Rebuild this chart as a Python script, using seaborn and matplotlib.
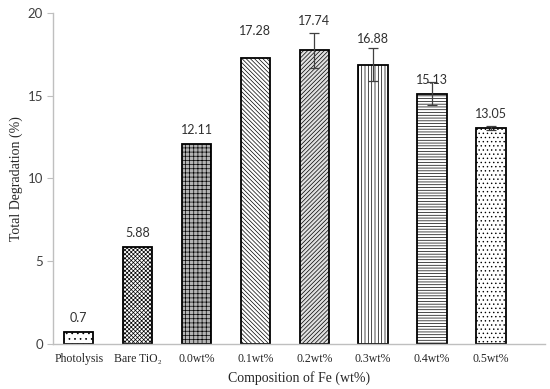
import matplotlib
matplotlib.use("Agg")
import matplotlib.pyplot as plt
import seaborn as sns
import numpy as np
import pandas as pd

categories = ['Photolysis', 'Bare TiO₂', '0.0wt%', '0.1wt%', '0.2wt%', '0.3wt%', '0.4wt%', '0.5wt%']
degradation = [0.7, 5.88, 12.11, 17.28, 17.74, 16.88, 15.13, 13.05]
errors = [0, 0, 0, 0, 1.05, 1.0, 0.7, 0.15]
labels = ['0.7', '5.88', '12.11', '17.28', '17.74', '16.88', '15.13', '13.05']

df = pd.DataFrame({'cat': categories, 'val': degradation})

sns.set_style('white')
plt.rcParams['hatch.linewidth'] = 0.5

fig, ax = plt.subplots(figsize=(5.5, 3.89), dpi=100)
fig.subplots_adjust(left=0.096, right=0.991, bottom=0.1157, top=0.9666)

sns.barplot(data=df, x='cat', y='val', ax=ax, width=0.5, errorbar=None,
            color='white', edgecolor='black', linewidth=1.3)

hatches = ['...', 'xxxxxxxx', '++++', '\\\\\\\\\\\\\\\\', '////////', '|||||', '------', '....']
faces = ['white', 'white', '#b4b4b4', 'white', '#e0e0e0', 'white', 'white', 'white']
for p, h, fc in zip(ax.patches, hatches, faces):
    p.set_hatch(h)
    p.set_facecolor(fc)

xs = np.arange(len(categories))
mask = np.array(errors) > 0
ax.errorbar(xs[mask], np.array(degradation)[mask], yerr=np.array(errors)[mask],
            fmt='none', ecolor='#404040', elinewidth=0.9, capsize=3.5, capthick=0.9)

# label heights above the bars (some pushed up by error bars)
pads = [0.9, 0.85, 0.8, 1.63, 1.75, 1.57, 0.8, 0.85]
for x, v, lab, pd_ in zip(xs, degradation, labels, pads):
    ax.text(x, v + pd_, lab, ha='center', va='center', fontsize=9,
            family='Lato', color='#303030')

ax.set_ylim(0, 20)
ax.set_yticks([0, 5, 10, 15, 20])
ax.set_xlim(-0.44, 7.92)

for s in ['top', 'right']:
    ax.spines[s].set_visible(False)
for s in ['left', 'bottom']:
    ax.spines[s].set_color('#bfbfbf')
    ax.spines[s].set_linewidth(1)

ax.tick_params(axis='y', left=True, length=4, color='#bfbfbf', labelsize=9.5,
               labelcolor='#404040', pad=3)
ax.tick_params(axis='x', bottom=False, labelsize=8.5, pad=3)
for t in ax.get_yticklabels():
    t.set_family('Lato')
for t in ax.get_xticklabels():
    t.set_family('Liberation Serif')

ax.set_xlabel('Composition of Fe (wt%)', family='Liberation Serif', fontsize=10, labelpad=4)
ax.set_ylabel('Total Degradation (%)', family='Liberation Serif', fontsize=10, labelpad=3)

fig.savefig('out.png', dpi=100)
